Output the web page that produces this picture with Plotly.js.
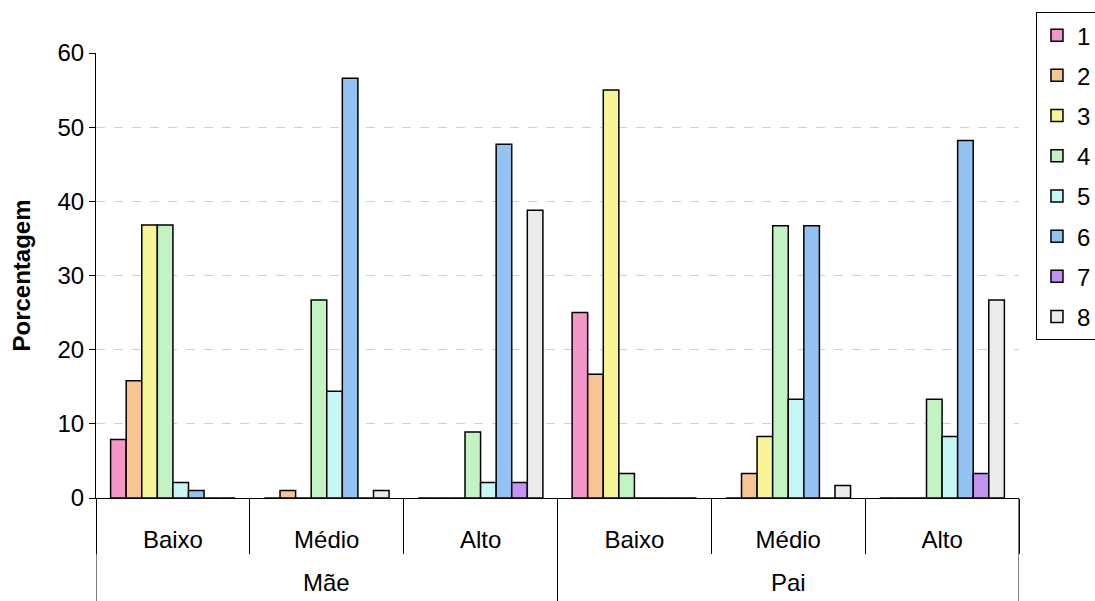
<!DOCTYPE html>
<html>
<head>
<meta charset="utf-8">
<script src="https://cdn.plot.ly/plotly-3.0.1.min.js"></script>
<style>
  html, body { margin: 0; padding: 0; background: #ffffff; }
  #chart { width: 1095px; height: 601px; }
</style>
</head>
<body>
<div id="chart"></div>
<script>
// Inner category labels (education level) and outer group labels (parent)
const levels = ["Baixo", "Médio", "Alto", "Baixo", "Médio", "Alto"];
const parentLabels = ["Mãe", "Pai"];

// Percentages per response option (1–8), one value per category
const s1 = [7.9, 0, 0, 25.0, 0, 0];
const s2 = [15.8, 1.0, 0, 16.7, 3.3, 0];
const s3 = [36.8, 0, 0, 55.0, 8.3, 0];
const s4 = [36.8, 26.7, 8.9, 3.3, 36.7, 13.3];
const s5 = [2.1, 14.4, 2.1, 0, 13.3, 8.3];
const s6 = [1.0, 56.6, 47.7, 0, 36.7, 48.2];
const s7 = [0, 0, 2.1, 0, 0, 3.3];
const s8 = [0, 1.0, 38.8, 0, 1.7, 26.7];

const seriesNames = ["1", "2", "3", "4", "5", "6", "7", "8"];
const seriesValues = [s1, s2, s3, s4, s5, s6, s7, s8];
const seriesColors = ["#F596C8", "#F7C593", "#F7F595", "#C3F3C3",
                      "#C6F6F6", "#93C3F3", "#C393F3", "#ECECEC"];

// Category slots on a linear axis; labels come from ticktext
const slots = levels.map((_, i) => i);
const groupSize = levels.length / parentLabels.length;
const groupCenters = parentLabels.map((_, g) => g * groupSize + (groupSize - 1) / 2);
const innerBounds = levels.map((_, i) => i - 0.5).concat([levels.length - 0.5]);
const outerBounds = parentLabels.map((_, g) => g * groupSize - 0.5).concat([levels.length - 0.5]);

const traces = seriesValues.map((vals, i) => ({
  type: "bar",
  name: seriesNames[i],
  legendgroup: "g" + i,
  x: slots,
  y: vals,
  marker: { color: seriesColors[i], line: { color: "#000000", width: 1.5 } },
  hoverinfo: "y+name"
}));

// Outer dividers run from the axis down to the bottom edge
const dividerShapes = outerBounds.map(b => ({
  type: "line", xref: "x", yref: "paper",
  x0: b, x1: b, y0: 0, y1: -0.2315,
  line: { color: "#000000", width: 1 }
}));

const parentAnnotations = parentLabels.map((lab, g) => ({
  xref: "x", yref: "paper",
  x: groupCenters[g], y: -0.191,
  text: lab, showarrow: false,
  xanchor: "center", yanchor: "middle",
  font: { size: 24 }
}));

const layout = {
  width: 1095,
  height: 601,
  paper_bgcolor: "#ffffff",
  plot_bgcolor: "#ffffff",
  margin: { l: 96, r: 76, t: 53, b: 103, autoexpand: false },
  barmode: "group",
  bargap: 0.19,
  bargroupgap: 0,
  font: { family: "'Liberation Sans', Arial, sans-serif", size: 24, color: "#000000" },
  showlegend: true,
  legend: {
    x: 1.0184, xanchor: "left",
    y: 1.092, yanchor: "top",
    bordercolor: "#000000", borderwidth: 1,
    bgcolor: "#ffffff",
    traceorder: "grouped",
    tracegroupgap: 6,
    maxheight: 560,
    font: { size: 24 }
  },
  xaxis: {
    range: [-0.5, levels.length - 0.5],
    tickmode: "array", tickvals: slots, ticktext: levels,
    ticks: "", ticklabelstandoff: 20,
    minor: { tickmode: "array", tickvals: innerBounds, ticks: "outside",
             ticklen: 55, tickcolor: "#000000", tickwidth: 1, showgrid: false },
    showline: true, linecolor: "#000000", linewidth: 1,
    showgrid: false, zeroline: false,
    tickfont: { size: 24 }
  },
  yaxis: {
    range: [0, 60], dtick: 10,
    showline: true, linecolor: "#000000", linewidth: 1,
    ticks: "outside", ticklen: 6, tickcolor: "#000000",
    showgrid: true, gridcolor: "#d0d0d0", griddash: "dash", gridwidth: 1,
    zeroline: false,
    tickfont: { size: 24 },
    title: { text: "<b>Porcentagem</b>", font: { size: 24 }, standoff: 20 }
  },
  shapes: dividerShapes,
  annotations: parentAnnotations
};

Plotly.newPlot("chart", traces, layout, { displayModeBar: false, staticPlot: true });
</script>
</body>
</html>
